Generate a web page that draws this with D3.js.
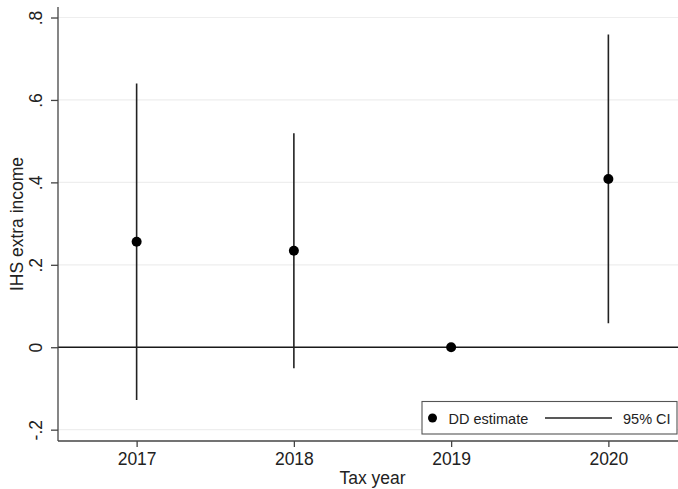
<!DOCTYPE html>
<html>
<head>
<meta charset="utf-8">
<script src="https://cdn.jsdelivr.net/npm/d3@7"></script>
<style>
  html, body { margin: 0; padding: 0; background: #fff; }
  svg { display: block; font-family: "Liberation Sans", Arial, sans-serif; }
</style>
</head>
<body>
<svg id="chart" width="678" height="489"></svg>
<script>
const years = [2017, 2018, 2019, 2020];
const estimates = [0.256, 0.234, 0.0, 0.408];
const ciLow = [-0.128, -0.051, 0.0, 0.058];
const ciHigh = [0.640, 0.519, 0.0, 0.759];
const yTicks = [-0.2, 0, 0.2, 0.4, 0.6, 0.8];
const yTickLabels = ["-.2", "0", ".2", ".4", ".6", ".8"];
const xTickLabels = ["2017", "2018", "2019", "2020"];
const legendLabels = ["DD estimate", "95% CI"];

const svg = d3.select("#chart");
const pLeft = 58, pRight = 687, pTop = 7, pBottom = 441;

const x = d3.scaleLinear().domain([2016.5, 2020.5]).range([pLeft, pRight]);
const y = d3.scaleLinear().domain([-0.2275, 0.8255]).range([pBottom, pTop]);

// gridlines
svg.append("g").selectAll("line").data(yTicks).join("line")
  .attr("x1", pLeft).attr("x2", pRight)
  .attr("y1", d => y(d)).attr("y2", d => y(d))
  .attr("stroke", "#eeeeee").attr("stroke-width", 1.2);

// zero reference line
svg.append("line")
  .attr("x1", pLeft).attr("x2", pRight)
  .attr("y1", y(0)).attr("y2", y(0))
  .attr("stroke", "#1a1a1a").attr("stroke-width", 1.5);

// CIs
svg.append("g").selectAll("line").data(years).join("line")
  .attr("x1", d => x(d)).attr("x2", d => x(d))
  .attr("y1", (d, i) => y(ciLow[i])).attr("y2", (d, i) => y(ciHigh[i]))
  .attr("stroke", "#222").attr("stroke-width", 1.6);

// points
svg.append("g").selectAll("circle").data(years).join("circle")
  .attr("cx", d => x(d)).attr("cy", (d, i) => y(estimates[i]))
  .attr("r", 5).attr("fill", "#000");

// y axis
const yAxis = d3.axisLeft(y).tickValues(yTicks)
  .tickFormat((d, i) => yTickLabels[i]).tickSize(7).tickSizeOuter(0);
const gy = svg.append("g").attr("transform", `translate(${pLeft},0)`).call(yAxis);
gy.select(".domain").attr("stroke", "#444").attr("stroke-width", 1.3)
  .attr("d", `M0,${pTop}V${pBottom}`);
gy.selectAll(".tick line").attr("stroke", "#444").attr("stroke-width", 1.3);
gy.selectAll(".tick text")
  .attr("x", null).attr("dy", null)
  .attr("transform", "translate(-16,0) rotate(-90)")
  .attr("text-anchor", "middle")
  .attr("font-size", 17.5)
  .attr("fill", "#222")
  .attr("font-family", "'Liberation Sans', Arial, sans-serif");

// x axis
const xAxis = d3.axisBottom(x).tickValues(years)
  .tickFormat((d, i) => xTickLabels[i]).tickSize(6).tickSizeOuter(0);
const gx = svg.append("g").attr("transform", `translate(0,${pBottom})`).call(xAxis);
gx.select(".domain").attr("stroke", "#444").attr("stroke-width", 1.3)
  .attr("d", `M${pLeft},0H${pRight}`);
gx.selectAll(".tick line").attr("stroke", "#444").attr("stroke-width", 1.3);
gx.selectAll(".tick text")
  .attr("y", 24).attr("dy", null)
  .attr("font-size", 17.5)
  .attr("fill", "#222")
  .attr("font-family", "'Liberation Sans', Arial, sans-serif");

// axis titles
svg.append("text")
  .attr("x", (pLeft + pRight) / 2).attr("y", 484)
  .attr("text-anchor", "middle")
  .attr("font-size", 17.5).attr("fill", "#222")
  .text("Tax year");
svg.append("text")
  .attr("transform", `translate(23,${(pTop + pBottom) / 2}) rotate(-90)`)
  .attr("text-anchor", "middle")
  .attr("font-size", 17.5).attr("fill", "#222")
  .text("IHS extra income");

// legend
const lg = svg.append("g");
lg.append("rect")
  .attr("x", 422).attr("y", 401.5).attr("width", 255).attr("height", 32.5)
  .attr("fill", "#fff").attr("stroke", "#555").attr("stroke-width", 1.1);
lg.append("circle").attr("cx", 432.5).attr("cy", 418).attr("r", 4.5).attr("fill", "#000");
lg.append("text").attr("x", 448.5).attr("y", 423.5)
  .attr("font-size", 14.5).attr("fill", "#222").text(legendLabels[0]);
lg.append("line").attr("x1", 545).attr("x2", 612).attr("y1", 418).attr("y2", 418)
  .attr("stroke", "#222").attr("stroke-width", 1.6);
lg.append("text").attr("x", 623).attr("y", 423.5)
  .attr("font-size", 14.5).attr("fill", "#222").text(legendLabels[1]);
</script>
</body>
</html>
